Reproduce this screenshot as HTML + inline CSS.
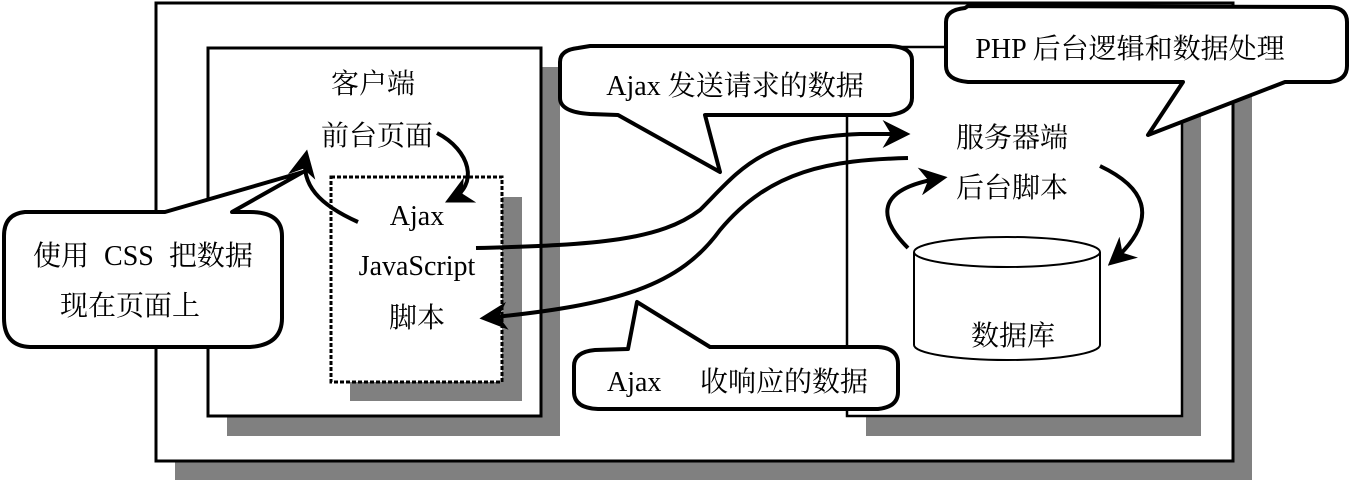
<!DOCTYPE html>
<html><head><meta charset="utf-8"><style>
html,body{margin:0;padding:0;background:#fff;width:1359px;height:482px;overflow:hidden}
svg text{font-family:"Liberation Serif","Noto Serif CJK SC",serif;fill:#000}
</style></head><body>
<svg width="1359" height="482" viewBox="0 0 1359 482" xmlns="http://www.w3.org/2000/svg">
<defs>
<marker id="ah" viewBox="0 0 10 10" refX="8" refY="5" markerWidth="7" markerHeight="7" orient="auto" markerUnits="strokeWidth">
<path d="M0,0 L10,5 L0,10 L3,5 z" fill="#000"/>
</marker>
</defs>
<rect x="175" y="22" width="1077" height="458" fill="#808080"/>
<rect x="156" y="3" width="1077" height="458" fill="#fff" stroke="#000" stroke-width="3"/>
<rect x="227" y="67" width="333" height="369" fill="#808080"/>
<rect x="208" y="48" width="333" height="368" fill="#fff" stroke="#000" stroke-width="3"/>
<rect x="350" y="197" width="172" height="204" fill="#808080"/>
<rect x="331" y="177" width="171" height="205" fill="#fff" stroke="#000" stroke-width="3" stroke-dasharray="4,2"/>
<rect x="866" y="67" width="335" height="369" fill="#808080"/>
<rect x="847" y="47" width="335" height="369" fill="#fff" stroke="#000" stroke-width="2.5"/>

<text x="373" y="93" font-size="28" text-anchor="middle">客户端</text>
<text x="377" y="145" font-size="28" text-anchor="middle">前台页面</text>
<text x="417" y="225" font-size="28" text-anchor="middle">Ajax</text>
<text x="417" y="275" font-size="28" text-anchor="middle">JavaScript</text>
<text x="417" y="327" font-size="28" text-anchor="middle">脚本</text>

<path d="M437,133 C470,150 480,185 450,200" fill="none" stroke="#000" stroke-width="4" marker-end="url(#ah)"/>
<path d="M358,222 C320,205 300,185 306,155" fill="none" stroke="#000" stroke-width="4" marker-end="url(#ah)"/>

<path d="M914,252 L914,345 A93,15 0 0 0 1100,345 L1100,252" fill="#fff" stroke="#000" stroke-width="2"/>
<ellipse cx="1007" cy="252" rx="93" ry="15" fill="#fff" stroke="#000" stroke-width="2"/>
<text x="1013" y="345" font-size="28" text-anchor="middle">数据库</text>

<text x="1012" y="147" font-size="28" text-anchor="middle">服务器端</text>
<text x="1012" y="197" font-size="28" text-anchor="middle">后台脚本</text>

<path d="M1100,166 C1140,185 1165,215 1112,262" fill="none" stroke="#000" stroke-width="4" marker-end="url(#ah)"/>
<path d="M908,248 C885,225 865,190 942,178" fill="none" stroke="#000" stroke-width="4" marker-end="url(#ah)"/>

<path d="M578,48 Q560,50 560,62 L560,98 Q560,112 590,114 L618,115 L720,172 L705,115 L890,115 Q912,112 912,98 L912,60 Q912,47 890,46 L590,46 Z" fill="#fff" stroke="#000" stroke-width="4" stroke-linejoin="round"/>
<text x="735" y="95" font-size="28" text-anchor="middle">Ajax 发送请求的数据</text>

<path d="M965,8 Q946,10 946,22 L946,66 Q946,80 968,82 L1183,82 L1148,135 L1285,82 L1330,82 Q1347,80 1347,66 L1347,22 Q1347,8 1330,7 L968,6 Z" fill="#fff" stroke="#000" stroke-width="4" stroke-linejoin="round"/>
<text x="1130" y="58" font-size="28" text-anchor="middle">PHP 后台逻辑和数据处理</text>

<path d="M25,212 Q4,214 4,236 L4,318 Q4,346 30,347 L250,347 Q282,345 282,318 L282,236 Q282,212 250,212 L232,212 L303,172 L165,212 Z" fill="#fff" stroke="#000" stroke-width="4" stroke-linejoin="round"/>
<text x="33" y="265" font-size="28">使用 <tspan dx="8">CSS</tspan> <tspan dx="8">把数据</tspan></text>
<text x="60" y="315" font-size="28">现在页面上</text>

<path d="M595,350 Q574,352 574,366 L574,392 Q574,408 598,409 L878,409 Q898,407 898,392 L898,364 Q898,348 878,347 L710,347 L637,302 L628,349 Z" fill="#fff" stroke="#000" stroke-width="4" stroke-linejoin="round"/>
<text x="607" y="391" font-size="28">Ajax</text>
<text x="700" y="391" font-size="28">收响应的数据</text>

<path d="M476,248 C600,245 660,240 700,210 C740,170 760,138 860,134 L905,134" fill="none" stroke="#000" stroke-width="4" marker-end="url(#ah)"/>
<path d="M908,158 C830,160 770,170 720,230 C680,285 620,305 485,318" fill="none" stroke="#000" stroke-width="4" marker-end="url(#ah)"/>
</svg>
</body></html>
